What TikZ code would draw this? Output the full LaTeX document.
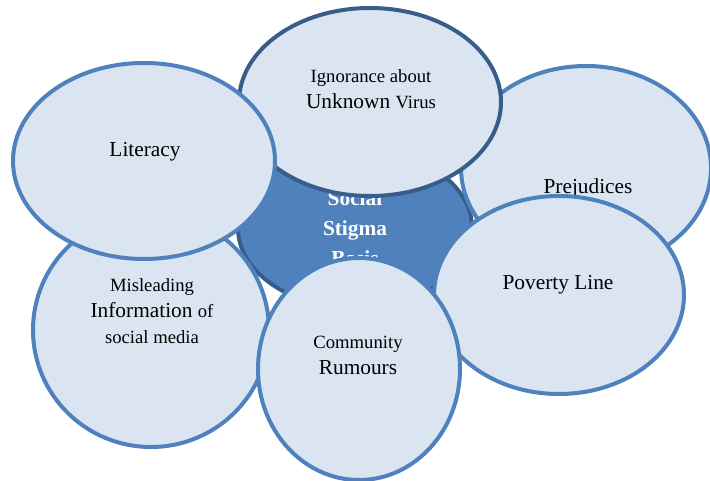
\documentclass[tikz,border=0pt]{standalone}
\usepackage{fontspec}
\setmainfont{Liberation Serif}
\usetikzlibrary{shapes.geometric}

\definecolor{bubblefill}{RGB}{219,229,241}
\definecolor{bubbleline}{RGB}{79,129,189}
\definecolor{darkline}{RGB}{56,93,138}

\newcommand{\txtsmall}{\fontsize{14}{19.5}\selectfont}
\newcommand{\txtbig}{\fontsize{16}{19.5}\selectfont}

\tikzset{every picture/.style={line width=0.75pt}}
\tikzset{
  bubble/.style={ellipse, draw=bubbleline, fill=bubblefill, line width=3pt, inner sep=0pt},
  hub/.style={ellipse, draw=darkline, fill=bubbleline, line width=3pt, inner sep=0pt},
  tag/.style={align=center, inner sep=0pt, text=black, font=\txtbig}
}

\begin{document}
\begin{tikzpicture}[x=0.75pt,y=0.75pt,yscale=-1,xscale=1]
	\useasboundingbox (0,0) rectangle (710,481);

	%Shape: Ellipse [id:hub]
	\node [hub, minimum width=234*0.75pt, minimum height=160*0.75pt, text=white, align=center, font=\fontsize{16}{22.5}\selectfont\bfseries] (stigma) at (355,228) {Social\\Stigma\\Basis};
	%Shape: Ellipse [id:prej]
	\node [bubble, minimum width=250*0.75pt, minimum height=204*0.75pt] (prej) at (586,168) {};
	% Text Node
	\node [tag] (prejT) at (588,188) {Prejudices};
	%Shape: Ellipse [id:pov]
	\node [bubble, minimum width=250*0.75pt, minimum height=198*0.75pt] (pov) at (559,295) {};
	% Text Node
	\node [tag] (povT) at (558,285) {Poverty Line};
	%Shape: Ellipse [id:ign]
	\node [bubble, draw=darkline, minimum width=262*0.75pt, minimum height=188*0.75pt] (ign) at (370,102) {};
	% Text Node
	\node [tag] (ignT) at (371,89) {\txtsmall Ignorance about\\ \txtbig Unknown \txtsmall Virus};
	%Shape: Ellipse [id:mis]
	\node [bubble, minimum width=236*0.75pt, minimum height=234*0.75pt] (mis) at (151,330) {};
	% Text Node
	\node [tag] (misT) at (152,311) {\txtsmall Misleading\\ \txtbig Information \txtsmall of\\ \txtsmall social media};
	%Shape: Ellipse [id:lit]
	\node [bubble, minimum width=262*0.75pt, minimum height=196*0.75pt] (lit) at (144,161) {};
	% Text Node
	\node [tag] (litT) at (145,152) {Literacy};
	%Shape: Ellipse [id:com]
	\node [bubble, minimum width=202*0.75pt, minimum height=222*0.75pt] (com) at (359,369) {};
	% Text Node
	\node [tag] (comT) at (358,355) {\txtsmall Community\\ \txtbig Rumours};

\end{tikzpicture}
\end{document}
